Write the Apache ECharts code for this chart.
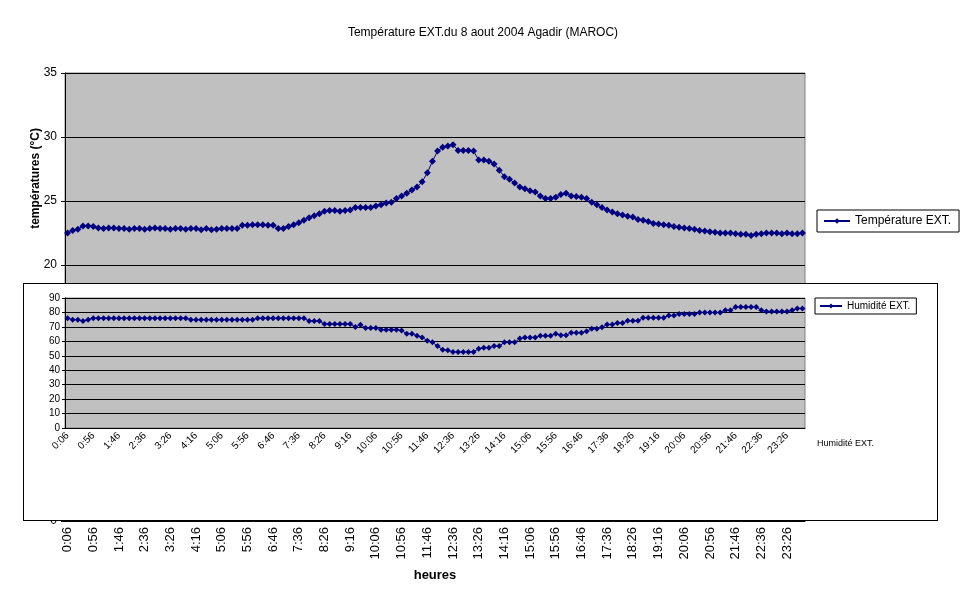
<!DOCTYPE html>
<html>
<head>
<meta charset="UTF-8">
<title>Température EXT.</title>
<script src="https://cdn.jsdelivr.net/npm/echarts@6/dist/echarts.min.js"></script>
<style>
    * { margin: 0; padding: 0; box-sizing: border-box; }
    body { width: 966px; height: 603px; background: #fff; position: relative; font-family: "Liberation Sans", Arial, sans-serif; }
    #top { position: absolute; left: 0; top: 0; width: 966px; height: 603px; }
    #bottom { position: absolute; left: 23px; top: 283px; width: 915px; height: 238px; background: #fff; border: 1px solid #000; }
</style>
</head>
<body>
<div id="top"></div>
<div id="bottom"></div>
<script>
    // heures : 0:06 -> 23:56, toutes les 10 minutes
    var heures = [];
    for (var h = 0; h < 24; h++) {
        for (var m = 6; m < 60; m += 10) {
            heures.push(h + ':' + (m < 10 ? '0' + m : m));
        }
    }

    var temperature = [
        22.5, 22.7, 22.8, 23.05, 23.05, 23.0, 22.9, 22.85, 22.9, 22.9,
        22.85, 22.85, 22.8, 22.85, 22.85, 22.8, 22.85, 22.9, 22.85, 22.85,
        22.8, 22.85, 22.85, 22.8, 22.85, 22.85, 22.75, 22.85, 22.75, 22.8,
        22.85, 22.85, 22.85, 22.85, 23.1, 23.1, 23.15, 23.15, 23.15, 23.1,
        23.1, 22.85, 22.85, 23.0, 23.15, 23.3, 23.5, 23.7, 23.85, 24.0,
        24.2, 24.25, 24.25, 24.2, 24.25, 24.3, 24.5, 24.5, 24.5, 24.5,
        24.6, 24.7, 24.85, 24.9, 25.2, 25.4, 25.6, 25.85, 26.1, 26.5,
        27.2, 28.1, 28.9, 29.2, 29.3, 29.4, 28.95, 28.95, 28.95, 28.9,
        28.2, 28.2, 28.1, 27.9, 27.4, 26.9, 26.7, 26.4, 26.1, 25.95,
        25.8, 25.7, 25.4, 25.2, 25.2, 25.3, 25.5, 25.6, 25.4, 25.35,
        25.3, 25.2, 24.9, 24.7, 24.5, 24.3, 24.15, 24.0, 23.9, 23.8,
        23.75, 23.55, 23.5, 23.4, 23.25, 23.2, 23.15, 23.1, 23.0, 22.95,
        22.9, 22.85, 22.8, 22.7, 22.65, 22.6, 22.55, 22.5, 22.5, 22.5,
        22.45, 22.4, 22.4, 22.3, 22.4, 22.45, 22.5, 22.5, 22.5, 22.45,
        22.5, 22.45, 22.45, 22.5
    ];

    var humidite = [
        76, 75, 75, 74, 75, 76, 76, 76, 76, 76,
        76, 76, 76, 76, 76, 76, 76, 76, 76, 76,
        76, 76, 76, 76, 75, 75, 75, 75, 75, 75,
        75, 75, 75, 75, 75, 75, 75, 76, 76, 76,
        76, 76, 76, 76, 76, 76, 76, 74, 74, 74,
        72, 72, 72, 72, 72, 72, 70, 71.5, 69.3, 69.3,
        69.3, 68, 68, 68, 68, 67.5, 65.3, 65.3, 63.8, 62.7,
        60.4, 59.3, 56.7, 54.2, 53.8, 52.7, 52.7, 52.7, 52.7, 52.7,
        54.9, 55.6, 55.6, 56.7, 56.7, 59.3, 59.3, 59.3, 62, 62.7,
        62.7, 62.7, 63.8, 63.8, 63.8, 65.3, 64.2, 64.2, 66, 66,
        66, 67, 68.7, 68.7, 69.8, 71.6, 71.6, 72.7, 72.7, 74.2,
        74.2, 74.2, 76.4, 76.4, 76.4, 76.4, 76.4, 77.8, 77.8, 78.9,
        78.9, 78.9, 78.9, 80, 80, 80, 80, 80, 81.6, 81.6,
        83.8, 83.8, 83.8, 83.8, 83.8, 81.6, 80.7, 80.7, 80.7, 80.7,
        80.7, 81.5, 82.7, 82.7
    ];

    var bleu = '#000080';
    var police = 'Liberation Sans';

    var chartTop = echarts.init(document.getElementById('top'));
    chartTop.setOption({
        animation: false,
        title: {
            text: 'Température EXT.du 8 aout 2004 Agadir (MAROC)',
            left: 'center', top: 22,
            textStyle: { fontFamily: police, fontSize: 12, fontWeight: 'normal', color: '#000' }
        },
        legend: {
            data: ['Température EXT.'],
            left: 817, top: 210, orient: 'vertical',
            padding: [5, 8, 5, 6],
            borderColor: '#000', borderWidth: 1,
            itemWidth: 26, itemHeight: 7,
            textStyle: { fontFamily: police, fontSize: 12, color: '#000' }
        },
        grid: {
            left: 65, top: 73, width: 740, height: 448,
            show: true, backgroundColor: '#c0c0c0', borderColor: '#808080', borderWidth: 1
        },
        xAxis: {
            type: 'category', data: heures,
            axisLine: { lineStyle: { color: '#000' } },
            axisTick: { interval: 0, length: 4, lineStyle: { color: '#000' } },
            axisLabel: { interval: 4, rotate: 90, fontFamily: police, fontSize: 13, color: '#000', margin: 6 },
            name: 'heures', nameLocation: 'middle', nameGap: 48,
            nameTextStyle: { fontFamily: police, fontSize: 13, fontWeight: 'bold', color: '#000' }
        },
        yAxis: {
            type: 'value', min: 0, max: 35, interval: 5,
            axisLine: { show: true, lineStyle: { color: '#000' } },
            axisTick: { show: true, length: 4, lineStyle: { color: '#000' } },
            axisLabel: { fontFamily: police, fontSize: 12, color: '#000', margin: 8 },
            splitLine: { lineStyle: { color: '#000' } }
        },
        graphic: [{
            type: 'text', left: 30, top: 128, rotation: Math.PI / 2,
            style: { text: 'températures (°C)', fontFamily: police, fontSize: 12, fontWeight: 'bold', fill: '#000' }
        }],
        series: [{
            name: 'Température EXT.', type: 'line', data: temperature,
            symbol: 'diamond', symbolSize: 7, showAllSymbol: true,
            itemStyle: { color: bleu }, lineStyle: { color: bleu, width: 1 }
        }]
    });

    var chartBottom = echarts.init(document.getElementById('bottom'));
    chartBottom.setOption({
        animation: false,
        legend: {
            data: ['Humidité EXT.'],
            left: 791, top: 14, orient: 'vertical',
            padding: [3, 6, 3, 4],
            borderColor: '#000', borderWidth: 1,
            itemWidth: 22, itemHeight: 6,
            textStyle: { fontFamily: police, fontSize: 10, color: '#000' }
        },
        grid: {
            left: 41, top: 14, width: 740, height: 130,
            show: true, backgroundColor: '#c0c0c0', borderColor: '#808080', borderWidth: 1
        },
        xAxis: {
            type: 'category', data: heures,
            axisLine: { lineStyle: { color: '#000' } },
            axisTick: { interval: 0, length: 3, lineStyle: { color: '#000' } },
            axisLabel: { interval: 4, rotate: 45, fontFamily: police, fontSize: 10, color: '#000', margin: 6 }
        },
        yAxis: {
            type: 'value', min: 0, max: 90, interval: 10,
            axisLine: { show: true, lineStyle: { color: '#000' } },
            axisTick: { show: true, length: 3, lineStyle: { color: '#000' } },
            axisLabel: { fontFamily: police, fontSize: 10, color: '#000', margin: 5 },
            splitLine: { lineStyle: { color: '#000' } }
        },
        graphic: [{
            type: 'text', left: 793, top: 155,
            style: { text: 'Humidité EXT.', fontFamily: police, fontSize: 9, fill: '#000' }
        }],
        series: [{
            name: 'Humidité EXT.', type: 'line', data: humidite,
            symbol: 'diamond', symbolSize: 6, showAllSymbol: true,
            itemStyle: { color: bleu }, lineStyle: { color: bleu, width: 1 }
        }]
    });
</script>
</body>
</html>
